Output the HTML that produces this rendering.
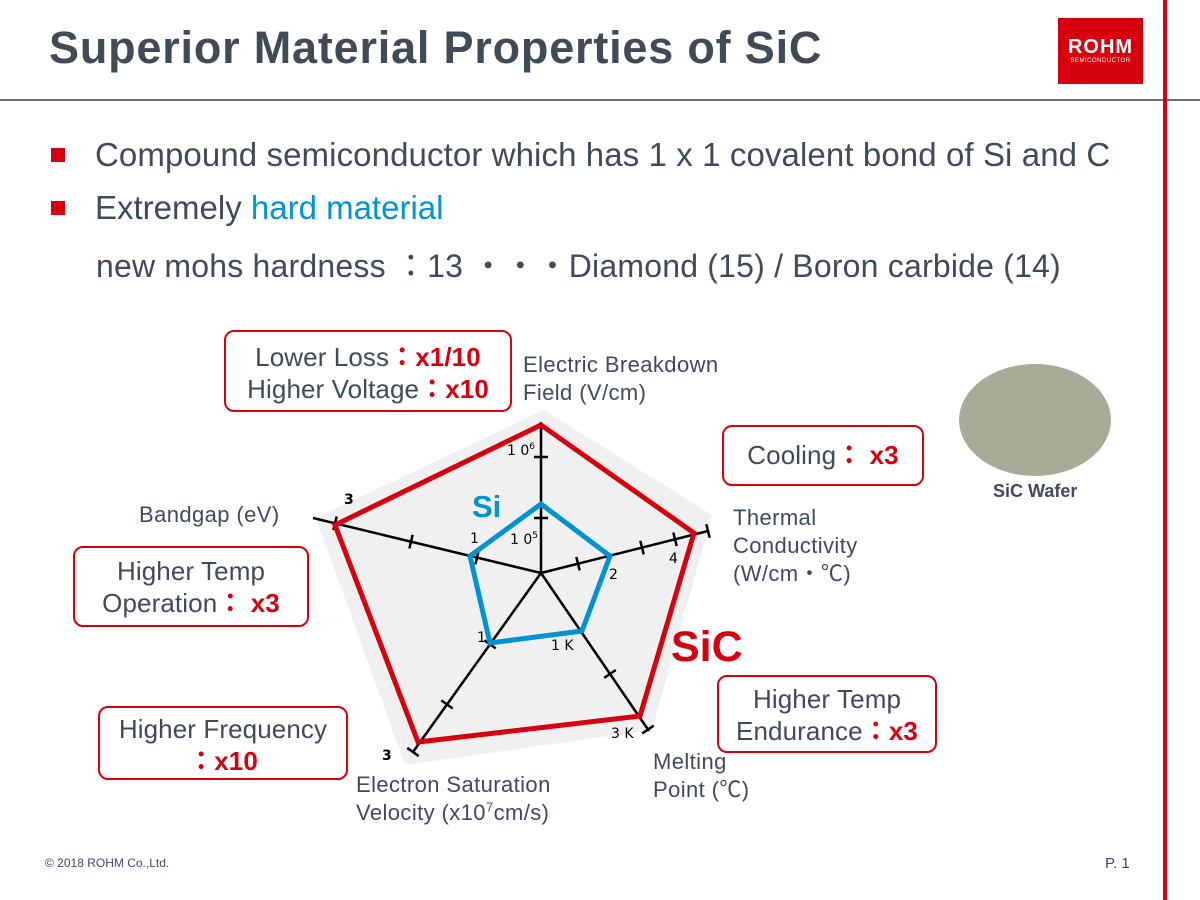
<!DOCTYPE html>
<html><head><meta charset="utf-8"><style>
body{margin:0;width:1200px;height:900px;position:relative;background:#fff;font-family:"Liberation Sans","Noto Sans CJK JP",sans-serif;color:#414b56;overflow:hidden}
.a{position:absolute;white-space:nowrap}
.box{position:absolute;border:2.5px solid #d7000f;border-radius:10px;box-sizing:border-box;text-align:center;font-size:26px;line-height:32px;color:#414b56;letter-spacing:.1px}
.r{color:#d7000f;font-weight:bold}
.lab{position:absolute;font-size:22px;line-height:28px;color:#414b56;white-space:nowrap;letter-spacing:.4px}
sup{line-height:0}
</style></head><body>
<div class="a" style="left:49px;top:22px;font-size:45px;font-weight:bold;color:#414b56;letter-spacing:.8px">Superior Material Properties of SiC</div>
<div class="a" style="left:0;top:99px;width:1200px;height:2px;background:#6b737a"></div>
<div class="a" style="left:1163px;top:0;width:4px;height:900px;background:#d7000f"></div>
<div class="a" style="left:1058px;top:18px;width:85px;height:66px;background:#d7000f;color:#fff;text-align:center">
<div style="font-size:20px;font-weight:bold;margin-top:19px;line-height:20px;letter-spacing:1px">ROHM</div>
<div style="font-size:6px;line-height:8px;letter-spacing:.5px">SEMICONDUCTOR</div></div>

<div class="a" style="left:51px;top:148px;width:14px;height:14px;background:#d7000f"></div>
<div class="a" style="left:95px;top:136px;font-size:33px;letter-spacing:.1px">Compound semiconductor which has 1 x 1 covalent bond of Si and C</div>
<div class="a" style="left:51px;top:201px;width:14px;height:14px;background:#d7000f"></div>
<div class="a" style="left:95px;top:189px;font-size:33px">Extremely <span style="color:#0094d6">hard material</span></div>
<div class="a" style="left:96px;top:241px;font-size:32px;letter-spacing:.2px">new mohs hardness ：13 ・・・Diamond (15) / Boron carbide (14)</div>

<svg class="a" style="left:0;top:0" width="1200" height="900">
<polygon points="544,410 712,515 652,730 405,765 316,518" fill="#f0f0f0"/>
<g stroke="#000" stroke-width="2.5" fill="none" id="ax">
<line x1="541" y1="573" x2="541" y2="422"/>
<line x1="541" y1="573" x2="708" y2="531"/>
<line x1="541" y1="573" x2="649" y2="731"/>
<line x1="541" y1="573" x2="413" y2="752"/>
<line x1="541" y1="573" x2="313" y2="518"/>
</g>
<polygon points="541,425 694,533 640,716 418,742 335,525" fill="none" stroke="#d7000f" stroke-width="5"/>
<polygon points="541,504 610,556 582,631 490,643 470,556" fill="none" stroke="#0092d2" stroke-width="5"/>
<g font-size="14" fill="#000" font-family="DejaVu Sans,sans-serif">
<text x="507" y="455">1 0<tspan font-size="9" dy="-6">6</tspan></text>
<text x="510" y="544">1 0<tspan font-size="9" dy="-6">5</tspan></text>
<text x="470" y="543">1</text>
<text x="609" y="579">2</text>
<text x="669" y="563">4</text>
<text x="477" y="642">1</text>
<text x="551" y="650">1 K</text>
<text x="611" y="738">3 K</text>
<text x="344" y="504" font-weight="bold">3</text>
<text x="382" y="760" font-weight="bold">3</text>
</g>
<text x="472" y="517" font-size="31" font-weight="bold" fill="#0092d2" font-family="Liberation Sans,sans-serif">Si</text>
<text x="671" y="661" font-size="43" font-weight="bold" fill="#d7000f" font-family="Liberation Sans,sans-serif">SiC</text>
<ellipse cx="1035" cy="420" rx="76" ry="56" fill="#a9ab99"/>
</svg>
<script>
var ticks=[[0,457],[0,518],[1,578],[1,642],[1,675],[1,708],[2,610],[2,648],[3,447],[3,490],[3,413],[4,411],[4,477],[4,335]];
var dirs=[[541,422],[708,531],[649,731],[413,752],[313,518]];
var g=document.getElementById('ax');
ticks.forEach(function(t){var d=dirs[t[0]],dx=d[0]-541,dy=d[1]-573,L=Math.hypot(dx,dy);dx/=L;dy/=L;
var p;if(Math.abs(dx)>0.3){var k=(t[1]-541)/dx;p=[t[1],573+k*dy];}else{var k=(t[1]-573)/dy;p=[541+k*dx,t[1]];}
var l=document.createElementNS('http://www.w3.org/2000/svg','line');
l.setAttribute('x1',p[0]-dy*7);l.setAttribute('y1',p[1]+dx*7);l.setAttribute('x2',p[0]+dy*7);l.setAttribute('y2',p[1]-dx*7);g.appendChild(l);});
</script>

<div class="box" style="left:224px;top:330px;width:288px;height:82px;padding-top:9px">Lower Loss<span class="r">：x1/10</span><br>Higher Voltage<span class="r">：x10</span></div>
<div class="box" style="left:722px;top:425px;width:202px;height:61px;padding-top:12px">Cooling<span class="r">： x3</span></div>
<div class="box" style="left:73px;top:546px;width:236px;height:81px;padding-top:7px">Higher Temp<br>Operation<span class="r">： x3</span></div>
<div class="box" style="left:98px;top:706px;width:250px;height:74px;padding-top:5px">Higher Frequency<br><span class="r">：x10</span></div>
<div class="box" style="left:717px;top:675px;width:220px;height:78px;padding-top:6px">Higher Temp<br>Endurance<span class="r">：x3</span></div>

<div class="lab" style="left:523px;top:351px">Electric Breakdown<br>Field (V/cm)</div>
<div class="lab" style="left:733px;top:504px">Thermal<br>Conductivity<br>(W/cm・℃)</div>
<div class="lab" style="left:139px;top:501px">Bandgap (eV)</div>
<div class="lab" style="left:653px;top:748px">Melting<br>Point (℃)</div>
<div class="lab" style="left:356px;top:771px">Electron Saturation<br>Velocity (x10<sup style="font-size:13px">7</sup>cm/s)</div>
<div class="a" style="left:993px;top:481px;font-size:18px;font-weight:bold">SiC Wafer</div>
<div class="a" style="left:45px;top:856px;font-size:12px">© 2018 ROHM Co.,Ltd.</div>
<div class="a" style="left:1105px;top:855px;font-size:15px">P. 1</div>
</body></html>
